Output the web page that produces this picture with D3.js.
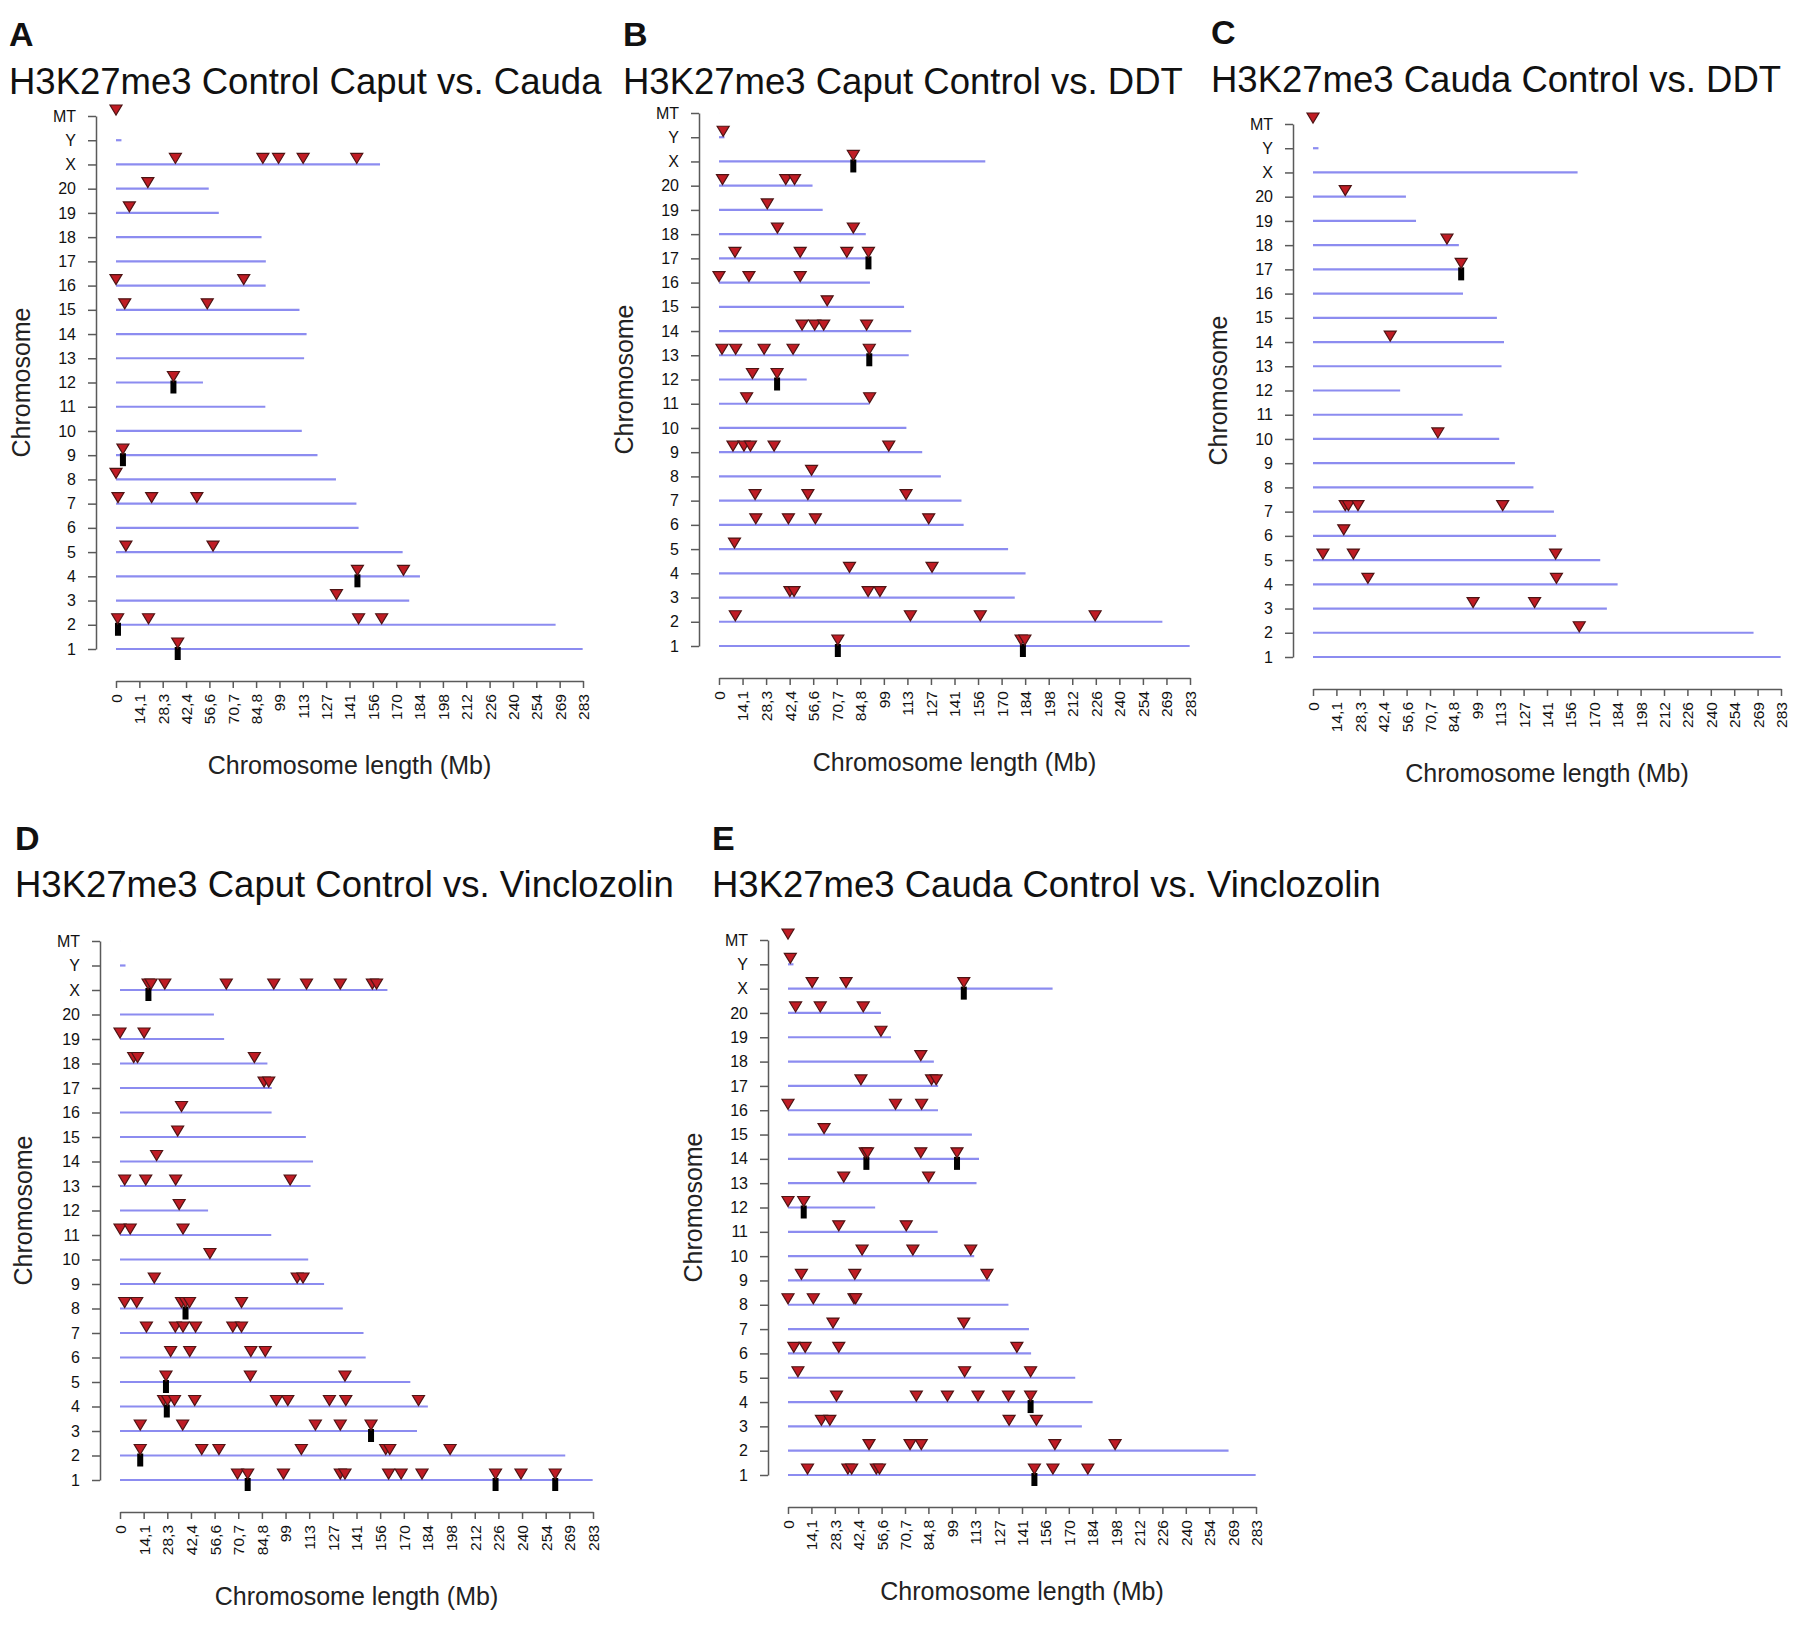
<!DOCTYPE html>
<html>
<head>
<meta charset="utf-8">
<script src="https://cdn.jsdelivr.net/npm/d3@7"></script>
<style>
  body { margin: 0; background: #fff; }
  svg text { font-family: "Liberation Sans", Arial, sans-serif; }
</style>
</head>
<body>
<svg id="fig" width="1800" height="1625"></svg>
<script>
// chromosomes, bottom to top, with rat genome lengths (Mb)
const chromosomes = ["1","2","3","4","5","6","7","8","9","10","11","12","13","14","15","16","17","18","19","20","X","Y","MT"];
const chromLengthsMb = [282.8,266.4,177.7,184.2,173.7,147.0,145.7,133.3,122.1,112.6,90.5,52.7,114.0,115.5,111.2,90.7,90.8,88.2,62.3,56.2,160.0,3.3,0.016];

const xTickValues = [0,14.15,28.3,42.45,56.6,70.75,84.9,99.05,113.2,127.35,141.5,155.65,169.8,183.95,198.1,212.25,226.4,240.55,254.7,268.85,283];
const xTickLabels = ["0","14,1","28,3","42,4","56,6","70,7","84,8","99","113","127","141","156","170","184","198","212","226","240","254","269","283"];

const panelLetters = ["A","B","C","D","E"];
const panelTitles = [
  "H3K27me3 Control Caput vs. Cauda",
  "H3K27me3 Caput Control vs. DDT",
  "H3K27me3 Cauda Control vs. DDT",
  "H3K27me3 Caput Control vs. Vinclozolin",
  "H3K27me3 Cauda Control vs. Vinclozolin"
];

// DMR sites [chromosome, position Mb]
const dmrA = [["MT",0],["X",36.0],["X",89.0],["X",98.5],["X",113.4],["X",145.9],["20",19.3],["19",8.1],
  ["16",0],["16",77.4],["15",5.3],["15",55.3],["12",34.8],["9",4.2],["8",0],["7",1.2],["7",21.6],["7",49.0],
  ["5",6.0],["5",58.8],["4",146.3],["4",174.2],["3",133.6],["2",1.0],["2",19.7],["2",147],["2",161],["1",37.4]];
const clusterA = [["12",34.8],["9",4.2],["4",146.3],["2",1.2],["1",37.4]];

const dmrB = [["Y",2.5],["X",80.7],["20",2.1],["20",40.1],["20",45.4],["19",29.0],["18",35.1],["18",80.7],
  ["17",9.6],["17",48.8],["17",76.8],["17",89.8],["16",0],["16",18.0],["16",48.8],["15",65.0],
  ["14",49.9],["14",57.5],["14",62.9],["14",88.7],["13",1.8],["13",10.0],["13",27.1],["13",44.5],["13",90.3],
  ["12",20.1],["12",34.9],["11",16.6],["11",90.5],["9",8.4],["9",15.0],["9",18.9],["9",33.1],["9",102],
  ["8",55.6],["7",21.7],["7",53.4],["7",112.4],["6",22.1],["6",41.7],["6",57.9],["6",126],["5",9.3],
  ["4",78.4],["4",128],["3",42.6],["3",45.1],["3",89.6],["3",96.7],["2",9.8],["2",115],["2",157],["2",226],
  ["1",71.4],["1",181.5],["1",183.8]];
const clusterB = [["X",80.7],["17",89.8],["13",90.3],["12",34.9],["1",71.4],["1",182.6]];

const dmrC = [["MT",0],["20",19.5],["18",81.0],["17",89.6],["14",46.7],["10",75.5],["7",19.5],["7",21.4],
  ["7",27.2],["7",114.7],["6",18.6],["5",6.0],["5",24.4],["5",146.7],["4",33.2],["4",147.2],["3",96.8],
  ["3",134],["2",161]];
const clusterC = [["17",89.6]];

const dmrD = [["X",16.8],["X",18.6],["X",26.8],["X",63.6],["X",92],["X",111.6],["X",131.8],["X",151],["X",153.5],
  ["19",0],["19",14.4],["18",8.2],["18",10.5],["18",80.4],["17",86.2],["17",89.0],["16",36.8],["15",34.5],
  ["14",21.9],["13",2.8],["13",15.4],["13",33.3],["13",101.8],["12",35.4],["11",0],["11",6.1],["11",37.7],
  ["10",53.8],["9",20.5],["9",106],["9",109.5],["8",2.8],["8",10.0],["8",36.8],["8",39.2],["8",41.6],["8",72.7],
  ["7",15.8],["7",33.1],["7",37.7],["7",45.2],["7",67.5],["7",72.7],["6",30.3],["6",41.7],["6",78.3],["6",86.9],
  ["5",27.5],["5",78],["5",134.6],["4",26.1],["4",28.4],["4",32.6],["4",44.7],["4",93.6],["4",100.4],["4",125.3],
  ["4",135.1],["4",178.6],["3",12.1],["3",37.5],["3",116.9],["3",131.8],["3",150.2],["2",12.1],["2",48.9],
  ["2",59.2],["2",108.5],["2",159],["2",161.4],["2",197.5],["1",70.3],["1",76.4],["1",97.8],["1",131.8],
  ["1",134.6],["1",160.7],["1",168.2],["1",180.7],["1",224.7],["1",239.9],["1",260.4]];
const clusterD = [["X",17.0],["8",39.2],["5",27.5],["4",28.0],["3",150.2],["2",12.1],["1",76.4],["1",224.7],["1",260.4]];

const dmrE = [["MT",0],["Y",1.4],["X",14.6],["X",35.1],["X",106.3],["20",4.6],["20",19.5],["20",45.5],["19",56.2],
  ["18",80.3],["17",44.1],["17",86.8],["17",89.6],["16",0],["16",65],["16",80.8],["15",21.8],["14",46.7],
  ["14",48.1],["14",80.3],["14",102.2],["13",33.7],["13",85],["12",0],["12",9.5],["11",30.7],["11",71.5],
  ["10",44.8],["10",75.5],["10",110.5],["9",8.1],["9",40.4],["9",120.3],["8",0],["8",15.3],["8",39.9],["8",40.9],
  ["7",27.2],["7",106.3],["6",3.5],["6",10.4],["6",30.7],["6",138.4],["5",6.0],["5",106.8],["5",146.7],
  ["4",29.3],["4",77.6],["4",96.4],["4",114.9],["4",133.3],["4",146.7],["3",20.2],["3",25.3],["3",133.7],
  ["3",150.2],["2",49],["2",73.8],["2",80.6],["2",161.4],["2",197.8],["1",11.8],["1",36.2],["1",38.5],
  ["1",53.4],["1",55.3],["1",149],["1",160.2],["1",181.3]];
const clusterE = [["X",106.3],["14",47.4],["14",102.2],["12",9.5],["4",146.7],["1",149]];

const dmrSets = [dmrA, dmrB, dmrC, dmrD, dmrE];
const clusterSets = [clusterA, clusterB, clusterC, clusterD, clusterE];

// panel placement in the figure
const layout = [
  { left: 9,    yLabX: 23,   x0: 116,  x1: 583,  yTop: 116, yBot: 649,  titleY: 94,  letterY: 46 },
  { left: 623,  yLabX: 626,  x0: 719,  x1: 1190, yTop: 113, yBot: 646,  titleY: 94,  letterY: 46 },
  { left: 1211, yLabX: 1220, x0: 1313, x1: 1781, yTop: 124, yBot: 657,  titleY: 92,  letterY: 44 },
  { left: 15,   yLabX: 25,   x0: 120,  x1: 593,  yTop: 941, yBot: 1480, titleY: 897, letterY: 850 },
  { left: 712,  yLabX: 695,  x0: 788,  x1: 1256, yTop: 940, yBot: 1475, titleY: 897, letterY: 850 }
];

const svg = d3.select("#fig");
const lineColor = "#8c8cf0";
const axisColor = "#5a5a5a";

function drawPanel(i) {
  const p = layout[i];
  const g = svg.append("g");
  const x = d3.scaleLinear().domain([0, 283]).range([p.x0, p.x1]);
  const y = d3.scalePoint().domain(chromosomes).range([p.yBot, p.yTop]);

  g.append("text").attr("x", p.left).attr("y", p.letterY)
    .attr("font-size", 34).attr("font-weight", "bold").attr("fill", "#111").text(panelLetters[i]);
  g.append("text").attr("x", p.left).attr("y", p.titleY)
    .attr("font-size", 36.5).attr("fill", "#111").text(panelTitles[i]);

  // chromosome lines
  g.selectAll("line.chr").data(chromosomes).join("line")
    .attr("class", "chr")
    .attr("x1", x(0)).attr("x2", (d, k) => x(chromLengthsMb[k]))
    .attr("y1", d => y(d)).attr("y2", d => y(d))
    .attr("stroke", lineColor).attr("stroke-width", 2.2);

  // y axis
  const ya = g.append("g").attr("transform", `translate(${p.x0 - 20},0)`)
    .call(d3.axisLeft(y).tickSize(8).tickSizeOuter(0).tickPadding(12));
  ya.select(".domain").attr("stroke", axisColor).attr("stroke-width", 1.5);
  ya.selectAll(".tick line").attr("stroke", axisColor).attr("stroke-width", 1.5);
  ya.selectAll(".tick text").attr("font-size", 16).attr("fill", "#111")
    .attr("font-family", "Liberation Sans, Arial, sans-serif");

  // x axis
  const axisY = p.yBot + 32;
  const xa = g.append("g").attr("transform", `translate(0,${axisY})`)
    .call(d3.axisBottom(x).tickValues(xTickValues).tickFormat((d, k) => xTickLabels[k])
      .tickSize(7).tickSizeOuter(0));
  xa.select(".domain").attr("stroke", axisColor).attr("stroke-width", 1.5);
  xa.selectAll(".tick line").attr("stroke", axisColor).attr("stroke-width", 1.5);
  xa.selectAll(".tick text")
    .attr("font-size", 15.5).attr("fill", "#111")
    .attr("font-family", "Liberation Sans, Arial, sans-serif")
    .attr("transform", "rotate(-90)")
    .attr("text-anchor", "end")
    .attr("x", -13).attr("y", 0).attr("dy", "0.35em");

  g.append("text")
    .attr("x", (p.x0 + p.x1) / 2).attr("y", p.yBot + 118)
    .attr("text-anchor", "middle").attr("dominant-baseline", "middle")
    .attr("font-size", 25).attr("fill", "#222").text("Chromosome length (Mb)");

  g.append("text")
    .attr("transform", `translate(${p.yLabX},${(p.yTop + p.yBot) / 2}) rotate(-90)`)
    .attr("text-anchor", "middle").attr("dominant-baseline", "middle")
    .attr("font-size", 25).attr("fill", "#222").text("Chromosome");

  // cluster bars
  g.selectAll("rect.cl").data(clusterSets[i]).join("rect")
    .attr("class", "cl")
    .attr("x", d => x(d[1]) - 3).attr("y", d => y(d[0]) - 2)
    .attr("width", 6).attr("height", 13)
    .attr("fill", "#000");

  // DMR triangles
  g.selectAll("path.dmr").data(dmrSets[i]).join("path")
    .attr("class", "dmr")
    .attr("d", d => {
      const cx = x(d[1]), cy = y(d[0]);
      return `M${cx - 6},${cy - 11}L${cx + 6},${cy - 11}L${cx},${cy - 1}Z`;
    })
    .attr("fill", "#c01c24").attr("stroke", "#4e1414").attr("stroke-width", 1.2);
}

panelLetters.forEach((d, i) => drawPanel(i));
</script>
</body>
</html>
